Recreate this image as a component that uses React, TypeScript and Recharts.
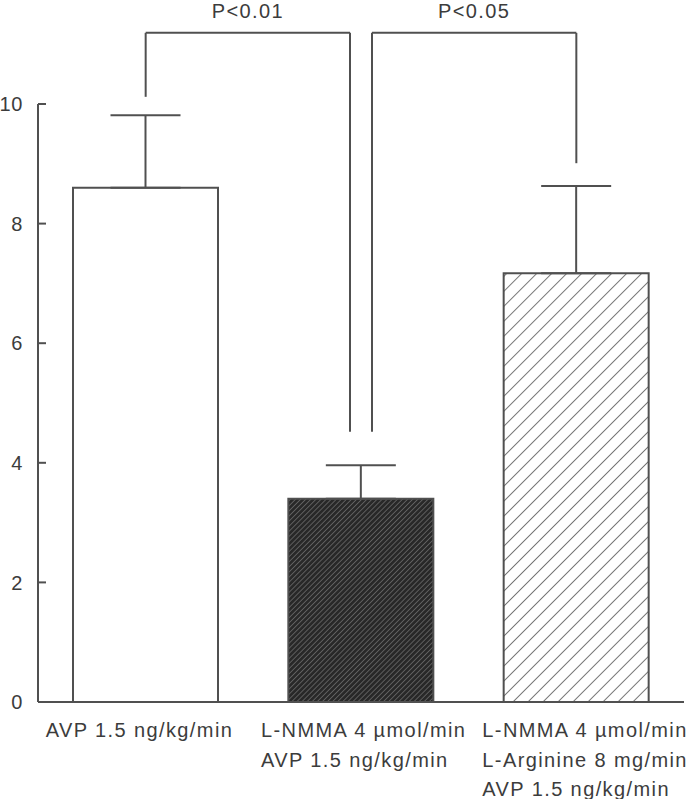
import React from "react";
import { BarChart, Bar, XAxis, YAxis, ErrorBar, Cell, ReferenceLine } from "recharts";

const categories = ["AVP", "L-NMMA + AVP", "L-NMMA + L-Arginine + AVP"];
const categoryLines = [
  ["AVP 1.5 ng/kg/min"],
  ["L-NMMA 4 \u00b5mol/min", "AVP 1.5 ng/kg/min"],
  ["L-NMMA 4 \u00b5mol/min", "L-Arginine 8 mg/min", "AVP 1.5 ng/kg/min"],
];
const means = [8.6, 3.4, 7.17];
const sems = [1.21, 0.56, 1.46];
const yTicks = [0, 2, 4, 6, 8, 10];

const comparisons = [
  { from: 0, to: 1, label: "P<0.01", fromLevel: 10.12, toLevel: 4.52 },
  { from: 1, to: 2, label: "P<0.05", fromLevel: 4.52, toLevel: 9.01 },
];
const bracketTop = 11.19;

const rows = categories.map((name, i) => ({ name, mean: means[i], err: [0, sems[i]] }));

const INK = "#505050";
const TEXT = "#3c3c3c";
const FONT = "'Liberation Sans', Arial, Helvetica, sans-serif";
const fills = ["#ffffff", "url(#densHatch)", "url(#sparseHatch)"];
const LEG_SHIFT = 11; // px separation of the two brackets' legs above the shared bar

const YTick = (props: any) => {
  const { x, y, payload } = props;
  return (
    <g>
      <line x1={x + 15} x2={x + 23} y1={y} y2={y} stroke={INK} strokeWidth={2} />
      <text x={x} y={y} dy="0.355em" textAnchor="end" fill={TEXT} fontSize={20} fontFamily={FONT} style={{ letterSpacing: "0.6px" }}>
        {payload.value}
      </text>
    </g>
  );
};

const XTick = (props: any) => {
  const { x, y, index } = props;
  const lines = categoryLines[index] || [];
  const sx = x - 100 + (index === 2 ? 6 : 0);
  return (
    <text x={sx} y={y + 35} textAnchor="start" fill={TEXT} fontSize={20} fontFamily={FONT} style={{ letterSpacing: "1.4px" }}>
      {lines.map((l, i) => (
        <tspan key={i} x={sx} dy={i === 0 ? 0 : 29.5}>
          {l}
        </tspan>
      ))}
    </text>
  );
};

const shiftedLine = (dx1: number, dx2: number) => (p: any) => (
  <line x1={p.x1 + dx1} y1={p.y1} x2={p.x2 + dx2} y2={p.y2} stroke={INK} strokeWidth={2} fill="none" />
);

export default function App() {
  const segs: any[] = [];
  comparisons.forEach((c, k) => {
    const a = categories[c.from];
    const b = categories[c.to];
    const dxA = c.from === 1 ? LEG_SHIFT : 0;
    const dxB = c.to === 1 ? -LEG_SHIFT : 0;
    segs.push(
      <ReferenceLine key={`l${k}`} ifOverflow="visible" shape={shiftedLine(dxA, dxA)}
        segment={[{ x: a, y: c.fromLevel }, { x: a, y: bracketTop }]} />
    );
    segs.push(
      <ReferenceLine key={`t${k}`} ifOverflow="visible" shape={shiftedLine(dxA, dxB)}
        segment={[{ x: a, y: bracketTop }, { x: b, y: bracketTop }]}
        label={{ value: c.label, position: "top", offset: 15, dx: (dxA + dxB) / 2, fill: TEXT, fontSize: 20, fontFamily: FONT, style: { letterSpacing: "1.4px" } }} />
    );
    segs.push(
      <ReferenceLine key={`r${k}`} ifOverflow="visible" shape={shiftedLine(dxB, dxB)}
        segment={[{ x: b, y: bracketTop }, { x: b, y: c.toLevel }]} />
    );
  });

  return (
    <div style={{ position: "absolute", left: 0, top: 0, width: 698, height: 799, background: "#fff" }}>
      <BarChart width={698} height={799} data={rows} margin={{ top: 104, right: 14, bottom: 0, left: 0 }}>
        <defs>
          <pattern id="densHatch" patternUnits="userSpaceOnUse" width={3.6} height={3.6} patternTransform="rotate(45)">
            <rect x={0} y={0} width={3.6} height={3.6} fill="#282828" />
            <line x1={0} y1={0} x2={0} y2={3.6} stroke="#909090" strokeWidth={1.0} />
          </pattern>
          <pattern id="sparseHatch" patternUnits="userSpaceOnUse" width={10.6} height={10.6} patternTransform="rotate(45)">
            <rect x={0} y={0} width={10.6} height={10.6} fill="#ffffff" />
            <line x1={0} y1={0} x2={0} y2={10.6} stroke={INK} strokeWidth={1.5} />
          </pattern>
        </defs>
        <XAxis dataKey="name" height={97} interval={0} tickLine={false} tickSize={0} tickMargin={0}
          axisLine={{ stroke: INK, strokeWidth: 2 }} tick={<XTick />} />
        <YAxis width={38} domain={[0, 10]} ticks={yTicks} interval={0} tickLine={false} tickSize={0} tickMargin={15}
          axisLine={{ stroke: INK, strokeWidth: 2 }} tick={<YTick />} allowDataOverflow />
        <Bar dataKey="mean" barSize={145} stroke={INK} strokeWidth={2} isAnimationActive={false}>
          {rows.map((r, i) => (
            <Cell key={i} fill={fills[i]} />
          ))}
          <ErrorBar dataKey="err" width={35} stroke={INK} strokeWidth={2} isAnimationActive={false} />
        </Bar>
        {segs}
      </BarChart>
    </div>
  );
}
